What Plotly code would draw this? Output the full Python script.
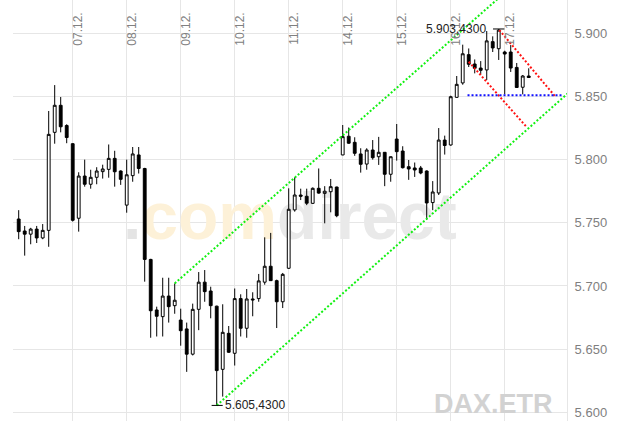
import plotly.graph_objects as go

# ---- data (DAX hourly candles, 04.12. - 17.12.) ----
opens = [5753, 5743.5, 5741, 5745, 5738, 5744, 5821.6, 5843, 5827,
         5812.6, 5753.6, 5787, 5780.5, 5786, 5790.5, 5792.3, 5801, 5791,
         5764, 5787.3, 5803.7, 5793, 5721, 5681, 5675.7, 5692, 5684.4,
         5673, 5666, 5646, 5681.5, 5703, 5696, 5684, 5634, 5662.5,
         5646.7, 5690, 5666.5, 5689.7, 5690, 5703, 5715.6, 5704.2, 5687.5,
         5714, 5760.2, 5772, 5771, 5765.4, 5777.3, 5773.3, 5774.6, 5778.3,
         5803.7, 5818.5, 5813.7, 5804.5, 5796.5, 5807.6, 5802.3, 5805.8, 5788.4,
         5816.3, 5806.8, 5794.4, 5793.4, 5793.4, 5791, 5766, 5773.6, 5815.5,
         5811.6, 5849.3, 5860.7, 5883.1, 5875.7, 5872.5, 5871, 5893.4, 5887.8,
         5885.2, 5885.2, 5873, 5857.3, 5866.2]
highs = [5760, 5747.5, 5746, 5747.5, 5749, 5838.5, 5859, 5849.6, 5828,
         5813, 5790, 5800, 5792, 5794, 5796, 5812, 5807, 5791.5,
         5800, 5810, 5810, 5793.5, 5721.5, 5683.6, 5706.5, 5706.5, 5702,
         5682, 5671, 5686, 5711, 5712.6, 5699.4, 5684.4, 5685.5, 5668.3,
         5698, 5693.4, 5697.6, 5695, 5709.5, 5738.5, 5742, 5705, 5710.3,
         5777.3, 5786, 5777, 5777, 5778, 5793, 5779, 5784.7, 5778.6,
         5827.4, 5825.4, 5817.7, 5809, 5809, 5815.5, 5818, 5806, 5802.5,
         5828.2, 5810.6, 5799.7, 5797.7, 5795, 5791.5, 5783, 5825, 5819,
         5850.6, 5866.2, 5891, 5888, 5879.3, 5878, 5901.8, 5897.6, 5903.43,
         5886.2, 5890.7, 5876.5, 5867, 5872.3]
lows = [5737, 5724, 5733, 5734, 5737, 5731, 5812.6, 5821.6, 5813,
        5751, 5743, 5778.6, 5777, 5780.5, 5785, 5785.7, 5778.6, 5780,
        5758, 5782.5, 5789, 5703.4, 5659, 5660, 5660, 5671, 5678,
        5652.7, 5632, 5645, 5665, 5687.5, 5674.4, 5605.43, 5612.4, 5647,
        5637, 5660, 5659, 5676, 5687.5, 5701, 5704, 5666.7, 5682.5,
        5713.5, 5758.8, 5768, 5764, 5765, 5773, 5749.6, 5758.3, 5754.4,
        5803.5, 5812.5, 5803, 5789.7, 5792, 5800, 5795.8, 5779, 5782.5,
        5799.2, 5793, 5784, 5786.3, 5788.4, 5752.2, 5760, 5772, 5804,
        5811, 5849, 5859.3, 5873.3, 5868.3, 5867.4, 5863, 5885.2, 5878.9,
        5851.7, 5869.4, 5857, 5851.7, 5864.9]
closes = [5743, 5741, 5745, 5738, 5744, 5820, 5843, 5826, 5817.5,
          5752, 5787, 5780.5, 5786, 5791, 5792.6, 5801, 5790.4, 5784.4,
          5788, 5804.5, 5793, 5721, 5680.4, 5676, 5692, 5683.6, 5688.7,
          5664.6, 5646, 5681.5, 5703, 5695.5, 5684.4, 5633, 5663.3, 5647.5,
          5690, 5666.5, 5689.7, 5689, 5704, 5715.6, 5704.2, 5687.5, 5709.2,
          5760.7, 5772, 5771, 5765.5, 5777.3, 5773.5, 5775, 5778.6, 5755.6,
          5818.2, 5813, 5805, 5796.3, 5807.6, 5801.5, 5805.8, 5788.4, 5802.3,
          5806.3, 5793.6, 5792.6, 5791.8, 5789.4, 5765.7, 5774.4, 5815.5, 5811.2,
          5849.8, 5859.6, 5883.8, 5875.5, 5872.3, 5870.7, 5894, 5888.4, 5902.5,
          5883.6, 5872.5, 5857.1, 5866.2, 5865]

day_labels = ["07.12.", "08.12.", "09.12.", "10.12.", "11.12.",
              "14.12.", "15.12.", "16.12.", "17.12."]
day_start_idx = [9, 18, 27, 36, 45, 54, 63, 72, 81]

y_tickvals = [5600, 5650, 5700, 5750, 5800, 5850, 5900]
y_ticktext = ["5.600", "5.650", "5.700", "5.750", "5.800", "5.850", "5.900"]

# drawn trend lines (candle index, value)
channel_upper_x = [26, 86]
channel_upper_y = [5702, 5953]
channel_lower_x = [33, 92]
channel_lower_y = [5605.43, 5854.5]
red1_x = [80.1, 89.4]
red1_y = [5902.6, 5850.1]
red2_x = [75.0, 84.7]
red2_y = [5877.5, 5825.6]
blue_x = [74.8, 90.6]
blue_y = [5851, 5851]

high_label = "5.903,4300"
high_idx, high_val = 80, 5903.43
low_label = "5.605,4300"
low_idx, low_val = 33, 5605.43

# ---- layout geometry ----
x_range = [-0.95, 91.38]
y_range = [5593.1, 5926.36]
GRID = "#e6e6e6"
FONT = "Liberation Sans, Arial, sans-serif"

idx = list(range(len(opens)))

fig = go.Figure()

# watermark (base subplot, below candles)
fig.add_trace(go.Scatter(
    x=[45.2], y=[5750.6], mode="text",
    text=["<span style='color:#e4e4e4'>.</span><span style='color:#fdf1d8'>com</span>"
          "<span style='color:#e9e9e9'>direct</span>"],
    textposition="middle center",
    textfont=dict(size=66, family=FONT, weight="bold", color="#e9e9e9"),
    hoverinfo="skip", showlegend=False, xaxis="x", yaxis="y"))

fig.add_trace(go.Candlestick(
    x=idx, open=opens, high=highs, low=lows, close=closes,
    increasing=dict(fillcolor="white", line=dict(color="black", width=1)),
    decreasing=dict(fillcolor="black", line=dict(color="black", width=1)),
    whiskerwidth=0, showlegend=False, hoverinfo="skip",
    xaxis="x2", yaxis="y2"))

def dotted(xs, ys, color):
    fig.add_trace(go.Scatter(x=xs, y=ys, mode="lines",
                             line=dict(color=color, width=2, dash="2px,2px"),
                             hoverinfo="skip", showlegend=False,
                             xaxis="x2", yaxis="y2"))

dotted(channel_upper_x, channel_upper_y, "#11f011")
dotted(channel_lower_x, channel_lower_y, "#11f011")
dotted(red1_x, red1_y, "#ff1111")
dotted(red2_x, red2_y, "#ff1111")
dotted(blue_x, blue_y, "#1111ff")

# high / low markers
fig.add_trace(go.Scatter(x=[high_idx - 0.95, high_idx + 0.95], y=[high_val, high_val],
                         mode="lines", line=dict(color="black", width=1),
                         hoverinfo="skip", showlegend=False, xaxis="x2", yaxis="y2"))
fig.add_trace(go.Scatter(x=[low_idx - 0.85, low_idx + 1.0], y=[low_val, low_val],
                         mode="lines", line=dict(color="black", width=1),
                         hoverinfo="skip", showlegend=False, xaxis="x2", yaxis="y2"))

annotations = []
for lab, i in zip(day_labels, day_start_idx):
    annotations.append(dict(x=i, y=1 - 29 / 421, xref="x", yref="paper",
                            text=lab, showarrow=False, textangle=-90,
                            xanchor="center", yanchor="middle", xshift=5,
                            font=dict(family=FONT, size=12, color="#808080")))
annotations.append(dict(x=high_idx - 1.75, y=high_val, xref="x", yref="y",
                        text=high_label, showarrow=False, xanchor="right",
                        yanchor="middle", font=dict(family=FONT, size=12, color="#222222")))
annotations.append(dict(x=low_idx + 1.0, y=low_val, xref="x", yref="y",
                        text=low_label, showarrow=False, xanchor="left",
                        yanchor="middle", font=dict(family=FONT, size=12, color="#222222")))
annotations.append(dict(x=(555 - 13) / 554, y=1 - 403.5 / 421, xref="paper", yref="paper",
                        text="DAX.ETR", showarrow=False, xanchor="right", yanchor="middle",
                        font=dict(family=FONT, size=27, color="#d2d2d2", weight="bold")))

fig.update_layout(
    width=619, height=421,
    margin=dict(l=13, r=52, t=0, b=0, pad=0, autoexpand=False),
    paper_bgcolor="white", plot_bgcolor="white",
    boxgap=0.33,
    showlegend=False,
    xaxis=dict(range=x_range, tickvals=day_start_idx, showticklabels=False,
               showgrid=True, gridcolor=GRID, gridwidth=1, zeroline=False,
               showline=False, ticks="", rangeslider=dict(visible=False)),
    yaxis=dict(range=y_range, side="right", tickvals=y_tickvals, ticktext=y_ticktext,
               showgrid=True, gridcolor=GRID, gridwidth=1, zeroline=False,
               showline=True, linecolor=GRID, linewidth=1,
               ticks="outside", ticklen=4, tickcolor="rgba(0,0,0,0)",
               tickfont=dict(family=FONT, size=13, color="#7f7f7f")),
    xaxis2=dict(overlaying="x", range=x_range, visible=False,
                rangeslider=dict(visible=False)),
    yaxis2=dict(overlaying="y", range=y_range, visible=False),
    annotations=annotations,
)

fig.write_html("out.html",
               config={"displayModeBar": False, "staticPlot": True},
               post_script="document.body.style.margin='0px';document.body.style.overflow='hidden';")
